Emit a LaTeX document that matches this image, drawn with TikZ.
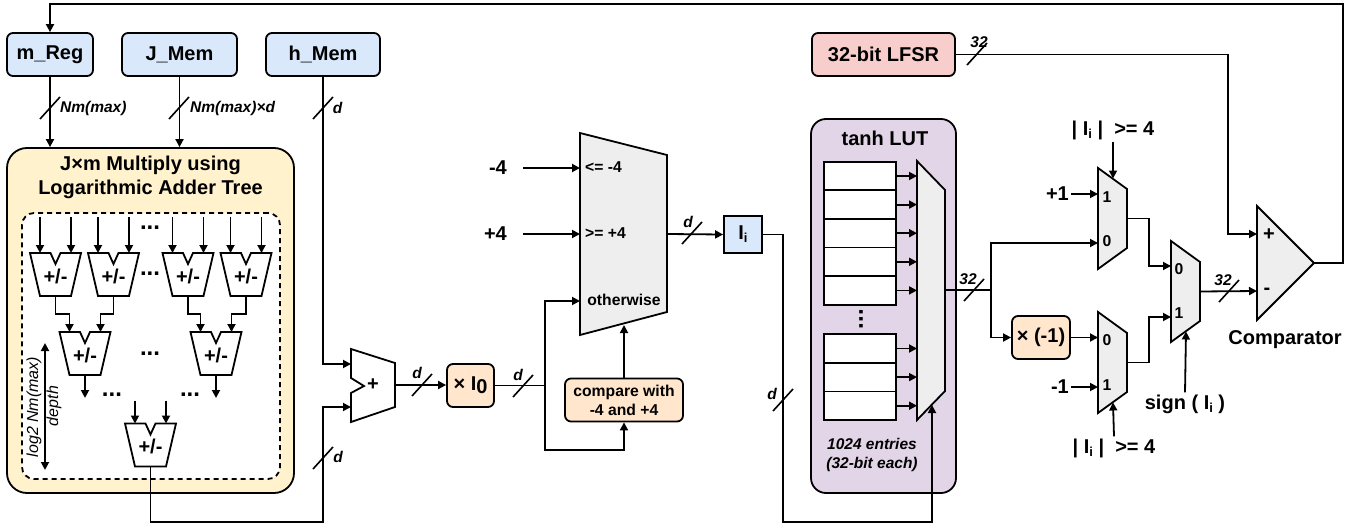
\documentclass[tikz,border=0pt]{standalone}
\usepackage{fontspec}
\usepackage{xcolor}
\usetikzlibrary{arrows.meta,positioning}
\setmainfont{Liberation Sans}
\definecolor{regblue}{HTML}{DAE8FC}
\definecolor{opsorange}{HTML}{FFE6CC}
\definecolor{treeyellow}{HTML}{FFF2CC}
\definecolor{lfsrred}{HTML}{F8CECC}
\definecolor{lutpurple}{HTML}{E1D5E7}
\definecolor{muxgray}{HTML}{EEEEEE}
\newcommand{\Ii}{I\raisebox{-3pt}{\fontsize{13}{13}\selectfont i}}

\begin{document}
\begin{tikzpicture}[
    x=1pt, y=-1pt,
    every node/.style={align=center},
    wire/.style={line width=1.8pt, line join=miter},
    arrow/.style={wire,->,>={Triangle[length=8pt,width=8pt]}},
    dblarrow/.style={wire,<->,>={Triangle[length=8pt,width=8pt]}},
    slash/.style={line width=1.6pt},
    bigtext/.style={font=\fontsize{20}{24}\selectfont\bfseries, inner sep=2pt},
    smalltext/.style={font=\fontsize{15.7}{19}\selectfont\bfseries, inner sep=0pt},
    bustext/.style={font=\fontsize{15.5}{19}\selectfont\bfseries\itshape, inner sep=0pt},
    depthtext/.style={font=\fontsize{16}{19}\selectfont\itshape, inner sep=0pt},
    dots/.style={font=\fontsize{24}{24}\selectfont\bfseries, inner sep=0pt},
    register/.style={wire, draw, rounded corners=6pt, fill=regblue, minimum height=43pt, inner sep=0pt, font=\fontsize{20}{24}\selectfont\bfseries},
    scalebox/.style={wire, draw, rounded corners=6pt, fill=opsorange, minimum height=43pt, inner sep=0pt, font=\fontsize{20}{24}\selectfont\bfseries},
    entry/.style={wire, draw, fill=white, minimum width=72pt, minimum height=28.6pt, inner sep=0pt, outer sep=0pt},
    muxshape/.style={wire, draw, fill=muxgray},
    addsub/.pic={
        \draw[wire, fill=white] (-25.5,-21.5) -- (-5,-21.5) -- (0,-10.5) -- (5,-21.5) -- (25.5,-21.5) -- (15.5,21.5) -- (-15.5,21.5) -- cycle;
        \node[bigtext] (-label) at (0,1.5) {+/-};
        \coordinate (-ina) at (-15.5,-21.5);
        \coordinate (-inb) at (15.5,-21.5);
        \coordinate (-out) at (0,21.5);
    },
    smallmux/.pic={
        \draw[muxshape] (-14.5,-50.5) -- (14.5,-29.5) -- (14.5,29.5) -- (-14.5,50.5) -- cycle;
        \coordinate (-left) at (-14.5,0);
        \coordinate (-out) at (14.5,0);
        \coordinate (-seltop) at (0.5,-40);
        \coordinate (-selbot) at (0.5,40);
    }
]
\useasboundingbox (0,0) rectangle (1357,527);

% Memories on the top row
\node[register, minimum width=86pt] (mreg) at (50,54.5) {m\_Reg};
\node[register, minimum width=115pt, right=27.2pt of mreg] (jmem) {J\_Mem};
\node[register, minimum width=114pt, right=27.2pt of jmem] (hmem) {h\_Mem};
\node[register, fill=lfsrred, minimum width=143pt] (lfsr) at (883.5,54.5) {32-bit LFSR};

% Adder tree block
\node[wire, draw, rounded corners=20pt, fill=treeyellow, minimum width=287pt, minimum height=345pt, inner sep=0pt] (mult) at (150.5,320.5) {};
\node[font=\fontsize{20}{24}\selectfont\bfseries, inner sep=0pt] (multtitle) at (150.5,177) {J×m Multiply using\\Logarithmic Adder Tree};
\node[wire, draw, dashed, dash pattern=on 5pt off 4pt, rounded corners=12pt, fill=white, minimum width=258pt, minimum height=266pt, inner sep=0pt] (treearea) at (151,346) {};

\pic (suba) at (55.5,274.5) {addsub};
\pic (subb) at (113.5,274.5) {addsub};
\pic (subc) at (188,274.5) {addsub};
\pic (subd) at (246,274.5) {addsub};
\pic (sube) at (85,353.5) {addsub};
\pic (subf) at (216,353.5) {addsub};
\pic (subroot) at (150.5,445) {addsub};

\foreach \unit in {suba,subb,subc,subd} {
    \draw[arrow] (\unit-ina) ++(0,-36) -- (\unit-ina);
    \draw[arrow] (\unit-inb) ++(0,-36) -- (\unit-inb);
}
\foreach \src/\dst/\pin in {suba/sube/ina,subb/sube/inb,subc/subf/ina,subd/subf/inb}
    \draw[arrow] (\src-out) -- ++(0,18) -| (\dst-\pin);
\draw[arrow] (sube-out) -- ++(0,23);
\draw[arrow] (subf-out) -- ++(0,23);
\draw[arrow] (subroot-ina) ++(0,-23) -- (subroot-ina);
\draw[arrow] (subroot-inb) ++(0,-23) -- (subroot-inb);

\node[dots] (dotsa) at (150,228) {...};
\node[dots] (dotsb) at (150,274) {...};
\node[dots] (dotsc) at (150,354) {...};
\node[dots] (dotsd) at (112,395) {...};
\node[dots] (dotse) at (190,395) {...};

% Depth of the tree
\coordinate (depthtop) at (45,343);
\coordinate (depthbot) at (45,470);
\draw[dblarrow] (depthtop) -- (depthbot);
\node[depthtext, rotate=90] (depthnum) at (34,407) {log2 Nm(max)};
\node[depthtext, rotate=90] (depthname) at (54,406) {depth};

% Adder with h
\draw[wire, fill=white] (351,349) -- (395,363) -- (395,407) -- (351,422) -- (351,393) -- (364,386) -- (351,378) -- cycle;
\node[bigtext] (addlabel) at (373,385) {+};
\coordinate (addina) at (351,364);
\coordinate (addinb) at (351,407);
\coordinate (addout) at (395,385);
\coordinate (treeturn) at (323,522);

\node[scalebox, minimum width=47pt] (scalei) at (470.5,385.5) {× I\raisebox{-3pt}{0}};
\node[scalebox, font=\fontsize{15.7}{19}\selectfont\bfseries, minimum width=118pt] (cmpbox) at (624,400) {compare with\\-4 and +4};

% Clamp mux
\draw[muxshape] (580,133) -- (667,155) -- (667,312) -- (580,335) -- cycle;
\coordinate (clampleft) at (580,234);
\coordinate (clampout) at (667,234);
\coordinate (clampsel) at (624,325);
\node[smalltext, anchor=west] (lowlabel) at (585,167) {<= -4};
\node[smalltext, anchor=west] (highlabel) at (585,233) {>= +4};
\node[smalltext] (otherlabel) at (624,300) {otherwise};
\node[bigtext, anchor=east] (minusfour) at (509,168) {-4};
\node[bigtext, anchor=east] (plusfour) at (509,234) {+4};
\coordinate (otherin) at (580,301);
\coordinate (splitnode) at (545,385.5);
\coordinate (cmpturn) at (545,450);

\node[wire, draw, fill=regblue, minimum width=38pt, minimum height=37pt, inner sep=0pt, font=\fontsize{20}{24}\selectfont\bfseries] (ibox) at (743,234.5) {\Ii};

% tanh table
\node[wire, draw, rounded corners=15pt, fill=lutpurple, minimum width=145pt, minimum height=374pt, inner sep=0pt] (lut) at (883.5,306) {};
\node[bigtext] (luttitle) at (885,138) {tanh LUT};
\node[entry] (cella) at (860,176) {};
\node[entry, below=0pt of cella] (cellb) {};
\node[entry, below=0pt of cellb] (cellc) {};
\node[entry, below=0pt of cellc] (celld) {};
\node[entry, below=0pt of celld] (celle) {};
\node[entry] (cellf) at (860,348.5) {};
\node[entry, below=0pt of cellf] (cellg) {};
\node[entry, below=0pt of cellg] (cellh) {};
\node[dots, rotate=90] (lutdots) at (861,319) {...};
\draw[muxshape] (917,161) -- (945,190) -- (945,391) -- (917,420) -- cycle;
\coordinate (lutleft) at (917,290);
\coordinate (lutout) at (945,290);
\coordinate (lutsel) at (932,405);
\foreach \cell in {cella,cellb,cellc,celld,celle,cellf,cellg,cellh}
    \draw[arrow] (\cell.east) -- (\cell.east -| lutleft);
\node[bustext, font=\fontsize{15.5}{19}\selectfont\bfseries\itshape] (lutnote) at (872,454.5) {1024 entries\\(32-bit each)};
\coordinate (iturn) at (783,522);
\coordinate (lutbranch) at (991,290);

% Sign muxes
\node[scalebox, minimum width=58pt] (negbox) at (1041,337.5) {× (-1)};
\pic (muxa) at (1112.5,218.5) {smallmux};
\pic (muxb) at (1112.5,362.5) {smallmux};
\pic (muxc) at (1185.5,291.5) {smallmux};
\node[smalltext] (muxaone) at (1107,197) {1};
\node[smalltext] (muxazero) at (1107,241) {0};
\node[smalltext] (muxbzero) at (1107,340) {0};
\node[smalltext] (muxbone) at (1107,385) {1};
\node[smalltext] (muxczero) at (1179,269) {0};
\node[smalltext] (muxcone) at (1179,313) {1};
\node[bigtext, anchor=east] (plusone) at (1071,194) {+1};
\node[bigtext, anchor=east] (minusone) at (1071,387) {-1};
\node[bigtext] (absa) at (1113,130) {|~\Ii~|~~>=~4};
\node[bigtext] (absb) at (1114,448) {|~\Ii~|~~>=~4};
\node[bigtext] (signlabel) at (1185,404) {sign ( \Ii~)};
\coordinate (muxaturn) at (1098,243);
\coordinate (mergea) at (1149,266);
\coordinate (mergeb) at (1149,317);
\coordinate (muxcina) at (1171,266);
\coordinate (muxcinb) at (1171,317);

% Comparator
\draw[muxshape] (1257,206) -- (1314,263) -- (1257,320) -- cycle;
\coordinate (cmpplus) at (1257,234);
\coordinate (cmpminus) at (1257,291);
\coordinate (cmpout) at (1314,263);
\node[bigtext] (cmpsigna) at (1269,235) {+};
\node[bigtext] (cmpsignb) at (1267,291) {-};
\node[bigtext] (cmplabel) at (1285,340) {Comparator};
\coordinate (lfsrturn) at (1228,54.5);
\coordinate (fbturn) at (1343,4);

% Connections
\draw[arrow] (mreg.south) -- (mreg.south |- mult.north);
\draw[arrow] (jmem.south) -- (jmem.south |- mult.north);
\draw[arrow] (hmem.south) |- (addina);
\draw[arrow] (subroot-out) |- (treeturn) |- (addinb);
\draw[arrow] (addout) -- (scalei.west |- addout);
\draw[wire] (scalei.east) -- (splitnode);
\draw[arrow] (splitnode) |- (otherin);
\draw[arrow] (splitnode) -- (cmpturn) -| (cmpbox.south);
\draw[arrow] (cmpbox.north) -- (clampsel);
\draw[arrow] ([xshift=14pt]minusfour.east) -- (minusfour.east -| clampleft);
\draw[arrow] ([xshift=14pt]plusfour.east) -- (plusfour.east -| clampleft);
\draw[arrow] (clampout) -- (ibox.west);
\draw[arrow] (ibox.east) -| (iturn) -| (lutsel);
\draw[wire] (lutout) -- (lutbranch);
\draw[arrow] (lutbranch) |- (muxaturn);
\draw[arrow] (lutbranch) |- (negbox.west);
\draw[arrow] (negbox.east) -- (negbox.east -| muxb-left);
\draw[arrow] (plusone.east) -- (plusone.east -| muxa-left);
\draw[arrow] (minusone.east) -- (minusone.east -| muxb-left);
\draw[arrow] (absa.south) -- (muxa-seltop);
\draw[arrow] (absb.north) -- (muxb-selbot);
\draw[arrow] (signlabel.north) -- (muxc-selbot);
\draw[arrow] (muxa-out) -| (mergea) -- (muxcina);
\draw[arrow] (muxb-out) -| (mergeb) -- (muxcinb);
\draw[arrow] (muxc-out) -- (cmpminus);
\draw[arrow] (lfsr.east) -- (lfsrturn) |- (cmpplus);
\draw[arrow] (cmpout) -| (fbturn) -| (mreg.north);

% Bus widths
\foreach \sx/\sy in {50/108,179/108,323/108,323/458,422/385,523/386,692/233,783/400,974/290,977/54,1229/291}
    \draw[slash] (\sx-10,\sy+11) -- (\sx+10,\sy-11);
\node[bustext, anchor=west] (widtha) at (60,108) {Nm(max)};
\node[bustext, anchor=west] (widthb) at (190,108) {Nm(max)×d};
\node[bustext] (widthc) at (337.5,108) {d};
\node[bustext] (widthd) at (338,457) {d};
\node[bustext] (widthe) at (417,373) {d};
\node[bustext] (widthf) at (518,375) {d};
\node[bustext] (widthg) at (688,222) {d};
\node[bustext] (widthh) at (772,394) {d};
\node[bustext] (widthi) at (968,279) {32};
\node[bustext] (widthj) at (979,42) {32};
\node[bustext] (widthk) at (1223,280) {32};
\end{tikzpicture}
\end{document}
